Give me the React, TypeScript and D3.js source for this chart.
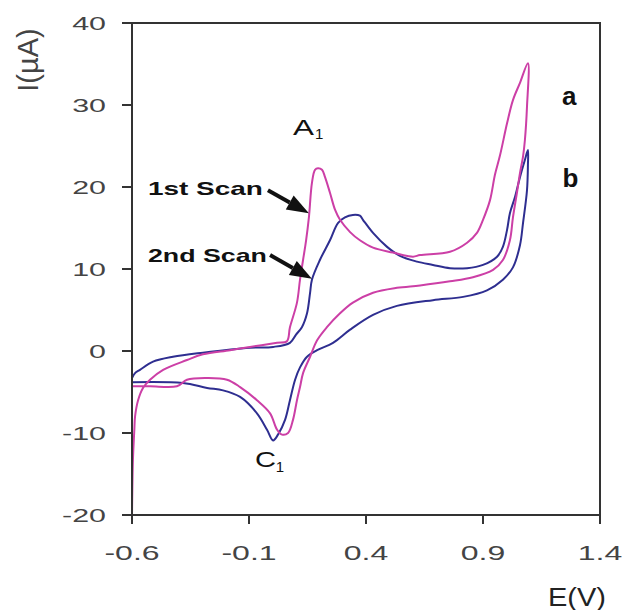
import React from "react";
import * as d3 from "d3";

// Curve a (1st scan, magenta): potential (V) and current (µA), forward then reverse
const curveA_E = [
  -0.6, -0.596, -0.59, -0.587, -0.574, -0.553, -0.523, -0.467, -0.365, -0.297, -0.181, -0.096, 0.02, 0.062,
  0.075, 0.105, 0.118, 0.131, 0.144, 0.156, 0.169, 0.182, 0.195, 0.212, 0.225, 0.246, 0.268, 0.289, 0.332,
  0.374, 0.43, 0.515, 0.601, 0.631, 0.759, 0.832, 0.874, 0.9, 0.93, 0.951, 0.973, 1.003, 1.028, 1.058, 1.092,
  1.088, 1.079, 1.071, 1.058, 1.045, 1.028, 1.015, 0.985, 0.943, 0.857, 0.759, 0.631, 0.532, 0.43, 0.344,
  0.289, 0.233, 0.191, 0.161, 0.131, 0.118, 0.105, 0.088, 0.067, 0.041, 0.02, -0.01, -0.066, -0.138, -0.194,
  -0.279, -0.365, -0.408, -0.523, -0.6,
];
const curveA_I = [
  -20, -13.3, -9.6, -8.0, -6.0, -4.5, -3.5, -2.3, -1.1, -0.4, 0.1, 0.5, 1.0, 1.2,
  2.9, 5.9, 8.7, 11.1, 13.5, 16.3, 20.5, 22.1, 22.3, 22.1, 21.2, 19.3, 17.2, 16.0, 14.5,
  13.5, 12.6, 12.0, 11.5, 11.7, 12.1, 13.2, 14.4, 16.0, 18.4, 21.5, 23.9, 27.8, 30.6, 32.7, 35.1,
  29.8, 25.7, 23.7, 21.7, 19.3, 16.3, 13.5, 11.1, 9.9, 9.0, 8.5, 8.0, 7.7, 7.1, 5.9,
  4.6, 2.9, 1.3, -0.7, -2.7, -4.4, -6.0, -8.4, -10.0, -10.2, -9.6, -7.6, -6.0, -4.4, -3.5,
  -3.3, -3.5, -4.3, -4.3, -4.3,
];

// Curve b (2nd scan, blue)
const curveB_E = [
  -0.6, -0.587, -0.566, -0.51, -0.425, -0.297, -0.096, 0.003, 0.075, 0.101, 0.126, 0.148, 0.161, 0.169,
  0.203, 0.246, 0.28, 0.31, 0.344, 0.374, 0.387, 0.43, 0.49, 0.545, 0.618, 0.686, 0.759, 0.832, 0.9, 0.96,
  0.985, 1.003, 1.015, 1.037, 1.058, 1.079, 1.092,
  1.092, 1.088, 1.071, 1.058, 1.028, 0.985, 0.917, 0.815, 0.686, 0.532, 0.43, 0.332, 0.259, 0.191, 0.148,
  0.118, 0.097, 0.075, 0.054, 0.024, 0.003, -0.023, -0.066, -0.138, -0.211, -0.279, -0.382, -0.6,
];
const curveB_I = [
  -3.3, -2.7, -2.3, -1.3, -0.7, -0.2, 0.4, 0.5, 1.0, 2.0, 2.9, 4.6, 7.1, 8.7,
  11.1, 13.5, 15.6, 16.3, 16.6, 16.5, 16.0, 14.4, 12.7, 11.6, 10.9, 10.5, 10.1, 10.1, 10.5, 11.5,
  12.7, 14.8, 16.8, 18.8, 21.2, 23.3, 24.5,
  22.7, 19.6, 15.6, 12.9, 10.2, 8.7, 7.4, 6.6, 6.2, 5.5, 4.4, 2.6, 1.0, 0.1, -0.7,
  -2.0, -3.5, -6.0, -8.4, -10.2, -10.9, -9.6, -7.6, -5.6, -4.8, -4.5, -3.9, -3.8,
];

const xTicks = [-0.6, -0.1, 0.4, 0.9, 1.4];
const xTickLabels = ["-0.6", "-0.1", "0.4", "0.9", "1.4"];
const yTicks = [-20, -10, 0, 10, 20, 30, 40];
const yTickLabels = ["-20", "-10", "0", "10", "20", "30", "40"];

const W = 622;
const H = 610;
const FONT = "'Liberation Sans', Arial, sans-serif";

export default function App() {
  const x = d3.scaleLinear().domain([-0.6, 1.4]).range([132, 600]);
  const y = d3.scaleLinear().domain([-20, 40]).range([515, 23]);

  const line = d3
    .line<[number, number]>()
    .x((d) => x(d[0]))
    .y((d) => y(d[1]))
    .curve(d3.curveCatmullRom.alpha(0.5));

  const ptsA: [number, number][] = curveA_E.map((e, i) => [e, curveA_I[i]]);
  const ptsB: [number, number][] = curveB_E.map((e, i) => [e, curveB_I[i]]);

  const arrow = (x0: number, y0: number, x1: number, y1: number) => {
    const dx = x1 - x0;
    const dy = y1 - y0;
    const len = Math.hypot(dx, dy);
    const ux = dx / len;
    const uy = dy / len;
    const hl = 22;
    const hw = 8;
    const bx = x1 - ux * hl;
    const by = y1 - uy * hl;
    return (
      <g>
        <line x1={x0} y1={y0} x2={bx} y2={by} stroke="#111" strokeWidth={4} />
        <polygon
          points={`${x1},${y1} ${bx - uy * hw},${by + ux * hw} ${bx + uy * hw},${by - ux * hw}`}
          fill="#111"
        />
      </g>
    );
  };

  return (
    <svg
      width={W}
      height={H}
      style={{ position: "absolute", left: 0, top: 0, background: "#fff" }}
      fontFamily={FONT}
    >
      <rect x={0} y={0} width={W} height={H} fill="#fff" />
      {/* curves */}
      <path d={line(ptsB) || ""} fill="none" stroke="#2e2e90" strokeWidth={2} strokeLinejoin="round" />
      <path d={line(ptsA) || ""} fill="none" stroke="#cc3fa6" strokeWidth={2} strokeLinejoin="round" />

      {/* frame */}
      <rect x={132} y={23} width={468} height={492} fill="none" stroke="#333" strokeWidth={2} />

      {/* y ticks */}
      {yTicks.map((t, i) => (
        <g key={"y" + t}>
          <line x1={122} x2={132} y1={y(t)} y2={y(t)} stroke="#333" strokeWidth={2} />
          <text
            transform={`translate(106,${y(t) + 7}) scale(1.6,1)`}
            textAnchor="end"
            fontSize={19}
            fill="#444"
          >
            {yTickLabels[i]}
          </text>
        </g>
      ))}
      {/* x ticks */}
      {xTicks.map((t, i) => (
        <g key={"x" + t}>
          <line x1={x(t)} x2={x(t)} y1={515} y2={524} stroke="#333" strokeWidth={2} />
          <text
            transform={`translate(${x(t)},${560}) scale(1.6,1)`}
            textAnchor="middle"
            fontSize={20}
            fill="#444"
          >
            {xTickLabels[i]}
          </text>
        </g>
      ))}

      {/* axis titles */}
      <text
        transform="translate(38,60) rotate(-90)"
        textAnchor="middle"
        fontSize={29}
        fill="#444"
      >
        I(µA)
      </text>
      <text x={548} y={606} fontSize={25} fill="#222" textLength={58} lengthAdjust="spacingAndGlyphs">
        E(V)
      </text>

      {/* annotations */}
      <text x={x(0.088)} y={y(26.3)} fontSize={22} fill="#111" textLength={21} lengthAdjust="spacingAndGlyphs">
        A
      </text>
      <text x={x(0.182)} y={y(25.9)} fontSize={15} fill="#111">
        1
      </text>
      <text x={x(-0.074)} y={y(-14.1)} fontSize={22} fill="#111" textLength={21} lengthAdjust="spacingAndGlyphs">
        C
      </text>
      <text x={x(0.014)} y={y(-14.7)} fontSize={15} fill="#111">
        1
      </text>
      <text x={x(1.238)} y={y(30.0)} fontSize={26} fontWeight="bold" fill="#111">
        a
      </text>
      <text x={x(1.24)} y={y(20.0)} fontSize={26} fontWeight="bold" fill="#111">
        b
      </text>
      <text
        x={x(-0.532)}
        y={y(19.0)}
        fontSize={19}
        fontWeight="bold"
        fill="#111"
        textLength={115}
        lengthAdjust="spacingAndGlyphs"
      >
        1st Scan
      </text>
      <text
        x={x(-0.532)}
        y={y(10.85)}
        fontSize={19}
        fontWeight="bold"
        fill="#111"
        textLength={119}
        lengthAdjust="spacingAndGlyphs"
      >
        2nd Scan
      </text>
      {arrow(x(-0.019), y(19.6), x(0.156), y(16.8))}
      {arrow(x(-0.01), y(11.7), x(0.169), y(8.8))}
    </svg>
  );
}
